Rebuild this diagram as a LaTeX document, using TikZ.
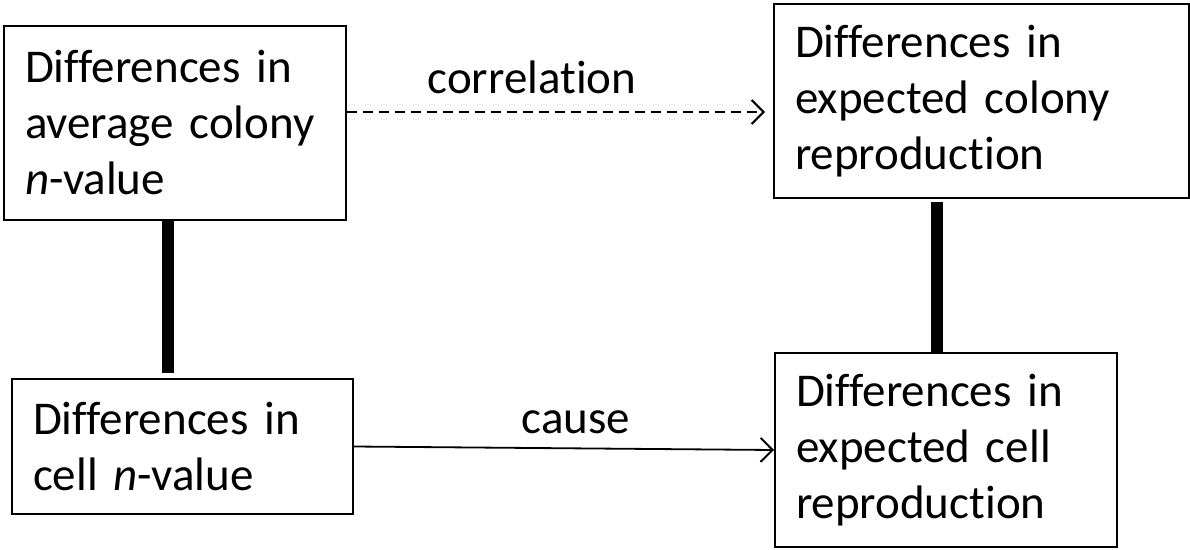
\documentclass[tikz,border=0pt]{standalone}
\usepackage{fontspec}
\setmainfont{Carlito}[Ligatures=NoCommon, RawFeature={-liga;-clig;-calt;-dlig}]
\usetikzlibrary{arrows.meta}

\newlength{\du}
\setlength{\du}{1pt}

\tikzset{
  boxnode/.style={draw=black, line width=2\du, fill=white, anchor=north west,
    align=left, inner xsep=21\du, inner ysep=0pt,
    font=\fontsize{47}{56}\selectfont},
  linklabel/.style={anchor=base, inner sep=0pt, font=\fontsize{47}{56}\selectfont},
  linkarrow/.style={line width=1.8\du,
    -{Straight Barb[length=12pt, width=24pt, line width=2pt]}},
  thickbar/.style={line width=12.5\du, line cap=butt}
}

\begin{document}
\begin{tikzpicture}[x=\du, y=-\du]
\useasboundingbox (0,0) rectangle (1190,549);
% boxes
\node[boxnode, text width=300\du, minimum width=342\du, minimum height=194\du] (avgcolony) at (3,25)
  {Differences in\\average colony\\\textit{n}-value};
\node[boxnode, text width=373\du, minimum width=415\du, minimum height=194\du] (expcolony) at (773,3)
  {Differences in\\expected colony\\reproduction};
\node[boxnode, text width=299\du, minimum width=341\du, minimum height=135\du] (cellval) at (11,378)
  {Differences in\\cell \textit{n}-value};
\node[boxnode, text width=300\du, minimum width=342\du, minimum height=194\du] (expcell) at (774,352)
  {Differences in\\expected cell\\reproduction};
% links
\draw[linkarrow, dash pattern=on 10pt off 6pt, shorten >=8pt]
  ([yshift=11pt]avgcolony.east) -- ([yshift=-11pt]expcolony.west);
\node[linklabel] (corrlabel) at (532,93) {correlation};
\draw[linkarrow] (cellval.east) -- (expcell.west);
\node[linklabel] (causelabel) at (576,433) {cause};
% thick bars
\draw[thickbar] ([xshift=-7pt]avgcolony.south) -- ++(0,152);
\draw[thickbar] ([xshift=-9pt]expcell.north) -- ++(0,-150);
\end{tikzpicture}
\end{document}
